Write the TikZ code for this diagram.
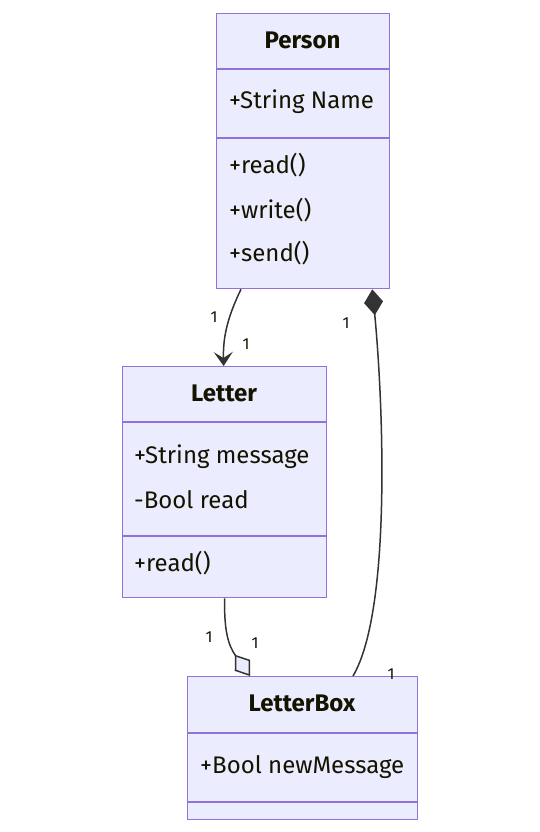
\documentclass[tikz,border=0pt]{standalone}
\usepackage{fontspec}
\setmainfont{Fira Sans}
\usepackage{xcolor}
\usetikzlibrary{arrows.meta,positioning,calc}
\definecolor{ClassFill}  {HTML}{ECECFF}
\definecolor{ClassLine}  {HTML}{9370DB}
\definecolor{EdgeLine}   {HTML}{333333}
\definecolor{LabelText}  {HTML}{131300}

\tikzset{
  classbox/.style={draw=ClassLine, fill=ClassFill, line width=1.3pt, inner sep=0pt},
  divider/.style={draw=ClassLine, line width=1.3pt},
  title/.style={font=\fontsize{24}{28}\selectfont\bfseries, text=LabelText, anchor=center},
  member/.style={font=\fontsize{24}{28}\selectfont, text=LabelText, anchor=west, inner sep=0pt},
  mult/.style={font=\fontsize{16}{19}\selectfont, text=LabelText, inner sep=0pt},
  edge/.style={draw=EdgeLine, line width=1.5pt}
}

\begin{document}
\begin{tikzpicture}[x=1pt, y=-1pt]
  \useasboundingbox (0,0) rectangle (540,832);

  % Person
  \node[classbox, minimum width=173pt, minimum height=275pt, anchor=north west]
    (person) at (216,13) {};
  \draw[divider] (216,69) -- (389,69);
  \draw[divider] (216,138) -- (389,138);
  \node[title] (personname) at (302.5,40) {Person};
  \node[member] (personattr) at (229,102) {+String Name};
  \node[member] (personread) at (229,165) {+read()};
  \node[member] (personwrite) at (229,210) {+write()};
  \node[member] (personsend) at (229,253) {+send()};

  % Letter
  \node[classbox, minimum width=204pt, minimum height=231pt, anchor=north west]
    (letter) at (122,366) {};
  \draw[divider] (122,422) -- (326,422);
  \draw[divider] (122,536) -- (326,536);
  \node[title] (lettername) at (224,393) {Letter};
  \node[member] (lettermsg) at (134,457) {+String message};
  \node[member] (letterflag) at (134,500) {-Bool read};
  \node[member] (letterread) at (134,563) {+read()};

  % LetterBox
  \node[classbox, minimum width=230pt, minimum height=143pt, anchor=north west]
    (letterbox) at (187,676) {};
  \draw[divider] (187,733) -- (417,733);
  \draw[divider] (187,802) -- (417,802);
  \node[title] (letterboxname) at (302,703) {LetterBox};
  \node[member] (letterboxnew) at (200,767) {+Bool newMessage};

  % connector ends
  \coordinate (personA) at ($(person.south west)+(25,0)$);
  \coordinate (personB) at ($(person.south east)+(-18,0)$);
  \coordinate (letterT) at ($(letter.north)+(-1,0)$);
  \coordinate (letterB) at (letter.south);
  \coordinate (boxA) at ($(letterbox.north west)+(63,0)$);
  \coordinate (boxB) at ($(letterbox.north west)+(166,0)$);

  % association
  \draw[edge, -{Stealth[length=14pt, width=19pt, inset=6pt]}]
    (personA) .. controls (226,320) and (223,340) .. (letterT);
  \node[mult] (m1) at (214,317) {1};
  \node[mult] (m2) at (246,344) {1};

  % composition
  \draw[edge, {Diamond[length=26pt, width=19pt]}-]
    (personB) .. controls (383,400) and (392,610) .. (boxB);
  \node[mult] (m3) at (346,323) {1};
  \node[mult] (m4) at (391,674) {1};

  % aggregation
  \draw[edge, -{Diamond[length=26pt, width=19pt, fill=ClassFill]}]
    (letterB) .. controls (224,630) and (228,645) .. (boxA);
  \node[mult] (m5) at (209,637) {1};
  \node[mult] (m6) at (255,643) {1};
\end{tikzpicture}
\end{document}
